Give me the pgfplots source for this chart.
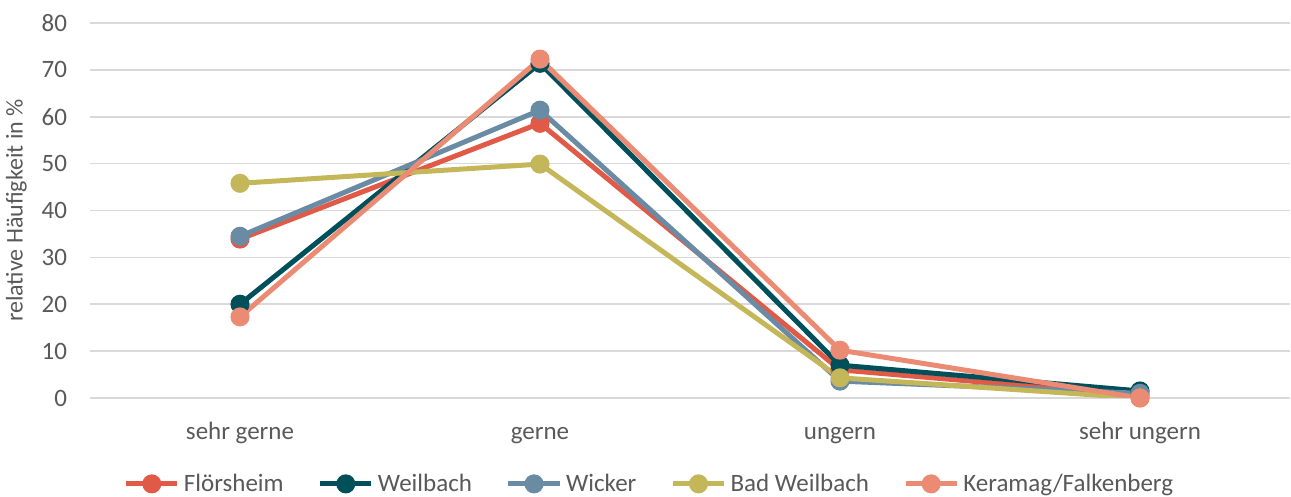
\documentclass[border=0pt]{standalone}
\usepackage{pgfplots}
\pgfplotsset{compat=1.18}
\usepackage{fontspec}
\setmainfont{Carlito}
\definecolor{cF}{HTML}{E05A47}
\definecolor{cW}{HTML}{00505C}
\definecolor{cWi}{HTML}{6A8BA4}
\definecolor{cB}{HTML}{C4B75A}
\definecolor{cK}{HTML}{EC8B74}
\definecolor{txt}{HTML}{595959}
\definecolor{grd}{HTML}{D9D9D9}
\begin{document}
\begin{tikzpicture}
\begin{axis}[
  scale only axis,
  width=600pt, height=187.5pt,
  xmin=-0.5, xmax=3.5, ymin=0, ymax=80,
  xtick={0,1,2,3},
  xticklabels={sehr gerne, gerne, ungern, sehr ungern},
  ytick={0,10,...,80},
  ymajorgrids, grid style={grd, line width=0.8pt},
  axis line style={draw=none},
  major tick length=0pt,
  tick label style={font=\fontsize{12.5}{15}\selectfont, text=txt},
  xticklabel style={anchor=base, yshift=-21pt},
  yticklabel style={xshift=-8pt},
  /pgf/number format/assume math mode=true,
  ylabel={relative Häufigkeit in \%},
  ylabel style={font=\fontsize{12}{14}\selectfont, text=txt, yshift=0.5pt},
  every axis plot/.append style={line width=2.5pt, mark=*, mark size=3.5pt},
  legend style={at={(0.467,-0.229)}, anchor=center, draw=none, font=\fontsize{12.5}{15}\selectfont, text=txt, legend columns=-1, /tikz/every even column/.append style={column sep=15pt}},
  legend image code/.code={\draw[#1, mark repeat=2, mark phase=2] plot coordinates {(0cm,0cm) (0.45cm,0cm) (0.9cm,0cm)};},
]
\addplot[cF, mark options={fill=cF}] coordinates {(0,33.9) (1,58.6) (2,6.0) (3,0.5)};
\addlegendentry{Flörsheim}
\addplot[cW, mark options={fill=cW}] coordinates {(0,20.0) (1,71.4) (2,7.0) (3,1.5)};
\addlegendentry{Weilbach}
\addplot[cWi, mark options={fill=cWi}] coordinates {(0,34.5) (1,61.4) (2,3.6) (3,1.0)};
\addlegendentry{Wicker}
\addplot[cB, mark options={fill=cB}] coordinates {(0,45.8) (1,49.9) (2,4.3) (3,0.0)};
\addlegendentry{Bad Weilbach}
\addplot[cK, mark options={fill=cK}] coordinates {(0,17.3) (1,72.3) (2,10.2) (3,0.0)};
\addlegendentry{Keramag/Falkenberg}
\end{axis}
\pgfresetboundingbox
\path ([shift={(-45pt,-49.5pt)}]current axis.south west) rectangle ([shift={(0.5pt,11.5pt)}]current axis.north east);
\end{tikzpicture}
\end{document}
